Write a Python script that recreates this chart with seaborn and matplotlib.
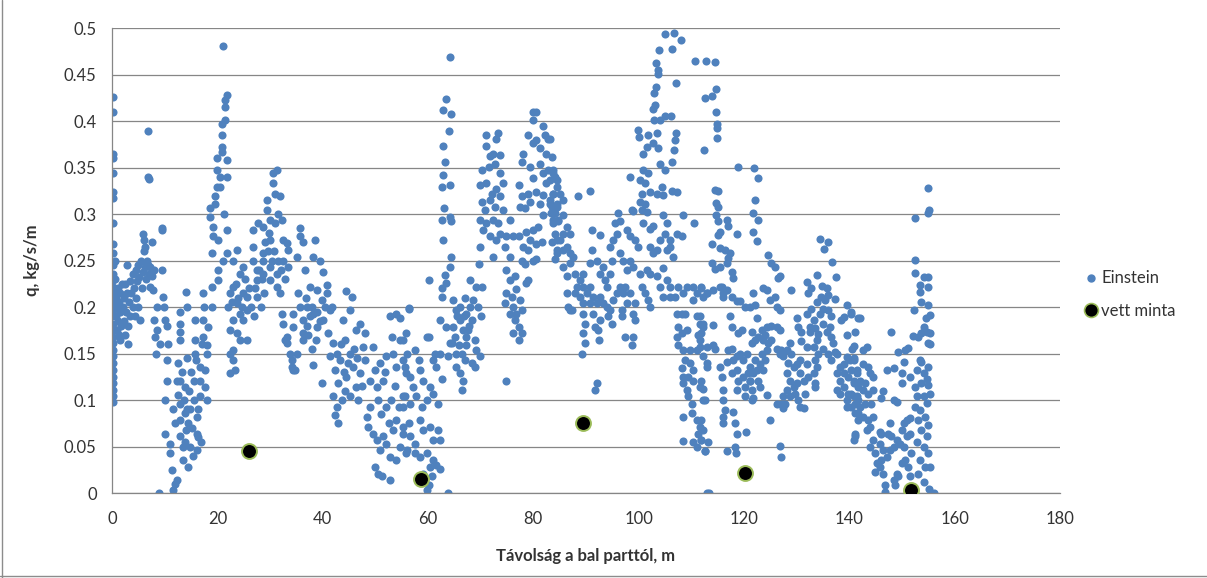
import numpy as np
import pandas as pd
import matplotlib
matplotlib.use("Agg")
import matplotlib.pyplot as plt
import seaborn as sns
from matplotlib.lines import Line2D

# Einstein bedload estimates (x in m, q in kg/s/m)
seg_00_10 = [
    (0.1, 0.426), (0.1, 0.41), (0.1, 0.365), (0.1, 0.36), (0.1, 0.344), (0.1, 0.324), (0.1, 0.317),
    (0.2, 0.29), (0.1, 0.268), (0.2, 0.258), (0.1, 0.245), (0.2, 0.236), (0.1, 0.229), (0.2, 0.222),
    (0.1, 0.215), (0.2, 0.204), (0.1, 0.197), (0.2, 0.19), (0.1, 0.182), (0.2, 0.175), (0.1, 0.168),
    (0.2, 0.161), (0.1, 0.154), (0.2, 0.147), (0.1, 0.14), (0.2, 0.132), (0.1, 0.125), (0.2, 0.118),
    (0.1, 0.111), (0.2, 0.104), (0.1, 0.098),
    (0.5, 0.25), (0.6, 0.23), (0.7, 0.21), (0.8, 0.19), (0.9, 0.175), (1.0, 0.2), (1.1, 0.22),
    (1.2, 0.185), (1.3, 0.205), (1.4, 0.17), (1.5, 0.215), (1.6, 0.195), (1.8, 0.18), (1.9, 0.225),
    (2.0, 0.2), (2.2, 0.21), (2.3, 0.185), (2.5, 0.225), (2.6, 0.195), (2.8, 0.245), (2.9, 0.215),
    (3.0, 0.18), (3.2, 0.205), (3.4, 0.228), (3.5, 0.19), (3.7, 0.215), (3.9, 0.2), (4.0, 0.235),
    (4.2, 0.22), (4.3, 0.19), (4.5, 0.24), (4.6, 0.21), (4.8, 0.228), (5.0, 0.2), (5.0, 0.245),
    (5.2, 0.232), (5.3, 0.186), (5.5, 0.25), (5.6, 0.22), (5.8, 0.238), (5.95, 0.279), (6.0, 0.26),
    (6.1, 0.272), (6.2, 0.265), (6.3, 0.243), (6.5, 0.23), (6.6, 0.25), (6.8, 0.245), (6.9, 0.389),
    (6.9, 0.34), (7.0, 0.338), (7.0, 0.236), (7.2, 0.243), (7.3, 0.222), (7.5, 0.27), (7.6, 0.233),
    (7.85, 0.218), (7.9, 0.24), (8.0, 0.186), (8.2, 0.168), (8.3, 0.15), (8.5, 0.2), (8.6, 0.175),
    (9.0, 0.0), (9.2, 0.16), (9.4, 0.285), (9.45, 0.283), (9.4, 0.24), (9.75, 0.211), (9.8, 0.2),
    (10.0, 0.186), (1.5, 0.165), (2.5, 0.17), (3.0, 0.16),
]
seg_10_18 = [
    (10.1, 0.064), (10.1, 0.1), (10.4, 0.143), (10.4, 0.121), (10.5, 0.18), (10.6, 0.16), (11.0, 0.043),
    (11.0, 0.053), (11.3, 0.025), (11.5, 0.09), (11.6, 0.003), (11.95, 0.01), (12.0, 0.075), (12.3, 0.014),
    (12.3, 0.12), (12.5, 0.105), (12.9, 0.096), (12.9, 0.078), (12.9, 0.061), (12.9, 0.195), (12.9, 0.182),
    (12.9, 0.173), (12.9, 0.165), (13.2, 0.13), (13.4, 0.05), (13.5, 0.035), (13.9, 0.114), (13.9, 0.086),
    (14.0, 0.068), (14.3, 0.2), (14.0, 0.216), (14.3, 0.145), (14.5, 0.028), (14.6, 0.11), (14.8, 0.05),
    (14.9, 0.09), (15.1, 0.07), (15.3, 0.04), (15.8, 0.186), (15.8, 0.165), (15.8, 0.15), (15.9, 0.143),
    (16.1, 0.082), (16.1, 0.064), (16.1, 0.046), (16.4, 0.06), (16.7, 0.104), (16.7, 0.121), (16.7, 0.136),
    (16.9, 0.055), (17.3, 0.215), (17.3, 0.186), (17.3, 0.168), (17.65, 0.132), (17.65, 0.114),
    (17.95, 0.15), (17.95, 0.159), (18.3, 0.179), (18.0, 0.1), (17.5, 0.2), (17.0, 0.16),
    (12.6, 0.14), (13.0, 0.12), (13.6, 0.1), (14.2, 0.09), (14.4, 0.075), (13.8, 0.055), (15.5, 0.12),
    (15.0, 0.13), (15.6, 0.1), (16.3, 0.09),
]
seg_18_29 = [
    (18.6, 0.306), (18.6, 0.297), (18.9, 0.2), (18.9, 0.222), (18.9, 0.258), (19.2, 0.286), (19.2, 0.276),
    (19.55, 0.311), (19.55, 0.319), (19.9, 0.36), (19.9, 0.347), (19.9, 0.329), (20.2, 0.272), (20.2, 0.24),
    (20.2, 0.229), (20.5, 0.329), (20.5, 0.34), (20.8, 0.367), (20.8, 0.372), (20.8, 0.385), (20.8, 0.397),
    (21.1, 0.481), (21.45, 0.401), (21.45, 0.415), (21.45, 0.423), (21.8, 0.428), (21.8, 0.358), (21.8, 0.34),
    (21.8, 0.283), (21.8, 0.258), (21.3, 0.3), (21.0, 0.25), (22.4, 0.215), (22.4, 0.175), (22.4, 0.15),
    (22.4, 0.129), (23.0, 0.25), (23.0, 0.222), (23.0, 0.186), (23.0, 0.154), (23.0, 0.143), (23.4, 0.132),
    (23.7, 0.261), (23.7, 0.204), (23.7, 0.172), (24.3, 0.236), (24.3, 0.193), (24.3, 0.165), (24.9, 0.243),
    (24.9, 0.215), (24.9, 0.186), (25.6, 0.211), (25.6, 0.197), (25.6, 0.165), (26.8, 0.283), (26.8, 0.265),
    (26.8, 0.25), (27.5, 0.24), (27.5, 0.229), (27.5, 0.211), (27.8, 0.29), (22.0, 0.2), (22.8, 0.205),
    (23.5, 0.225), (24.0, 0.21), (24.6, 0.2), (25.2, 0.23), (26.0, 0.22), (26.4, 0.2), (27.0, 0.19),
    (27.2, 0.22), (28.0, 0.24), (28.2, 0.2), (28.4, 0.23), (28.6, 0.25), (28.8, 0.215),
]
seg_29_48 = [
    (29.4, 0.304), (29.4, 0.315), (30.0, 0.294), (30.0, 0.272), (30.6, 0.344), (30.6, 0.333), (31.3, 0.347),
    (30.9, 0.322), (31.9, 0.319), (32.2, 0.294), (32.5, 0.272), (28.7, 0.286), (28.7, 0.258), (28.7, 0.236),
    (30.0, 0.243), (30.0, 0.229), (31.3, 0.236), (31.3, 0.222), (31.9, 0.215), (32.2, 0.193), (32.5, 0.182),
    (33.2, 0.168), (33.8, 0.15), (34.1, 0.136), (34.8, 0.132), (32.9, 0.165), (33.5, 0.243), (33.5, 0.261),
    (33.2, 0.269), (29.0, 0.27), (29.6, 0.26), (30.3, 0.25), (30.8, 0.26), (31.5, 0.25), (32.0, 0.24),
    (32.8, 0.23), (29.8, 0.28), (31.0, 0.29), (31.6, 0.3), (32.4, 0.25),
    (35.7, 0.285), (35.7, 0.276), (36.3, 0.27), (38.5, 0.272), (35.1, 0.254), (36.6, 0.24), (38.2, 0.254),
    (39.5, 0.25), (40.1, 0.238), (40.8, 0.224), (35.4, 0.215), (35.7, 0.2), (37.0, 0.2), (37.6, 0.222),
    (38.9, 0.218), (39.8, 0.208), (40.8, 0.215), (41.4, 0.197), (34.4, 0.193), (34.4, 0.179), (36.3, 0.186),
    (36.3, 0.172), (38.2, 0.193), (38.9, 0.179), (40.1, 0.186), (41.1, 0.172), (33.2, 0.161), (35.1, 0.15),
    (36.3, 0.165), (37.9, 0.155), (34.1, 0.143), (34.4, 0.132), (38.2, 0.138), (39.8, 0.118), (37.0, 0.18),
    (37.5, 0.19), (38.0, 0.2), (39.0, 0.195), (39.4, 0.185), (40.5, 0.2), (36.8, 0.21), (37.3, 0.17),
    (38.7, 0.165),
    (41.7, 0.2), (44.5, 0.217), (45.5, 0.211), (45.2, 0.197), (42.0, 0.161), (42.7, 0.15), (43.9, 0.186),
    (43.3, 0.143), (44.2, 0.165), (45.2, 0.15), (46.4, 0.175), (47.1, 0.182), (41.4, 0.147), (42.3, 0.132),
    (43.0, 0.118), (42.0, 0.104), (42.7, 0.093), (42.3, 0.084), (43.0, 0.075), (44.5, 0.125), (45.8, 0.136),
    (46.4, 0.114), (45.2, 0.104), (46.8, 0.1), (47.1, 0.129), (48.0, 0.143), (47.7, 0.157), (48.0, 0.172),
    (43.5, 0.16), (44.0, 0.13), (44.8, 0.14), (43.6, 0.1), (44.3, 0.11), (46.0, 0.155), (46.5, 0.145),
    (47.5, 0.115),
]
seg_48_63 = [
    (49.6, 0.157), (49.9, 0.132), (49.0, 0.121), (50.3, 0.114), (51.5, 0.121), (52.1, 0.147), (52.8, 0.19),
    (54.0, 0.193), (53.1, 0.168), (53.4, 0.15), (54.0, 0.136), (54.7, 0.165), (55.3, 0.143), (55.9, 0.172),
    (56.3, 0.199), (55.9, 0.129), (55.6, 0.104), (55.3, 0.093), (54.4, 0.093), (52.1, 0.093), (49.0, 0.093),
    (48.4, 0.082), (48.7, 0.071), (49.6, 0.064), (50.3, 0.057), (51.5, 0.061), (50.9, 0.046), (52.1, 0.053),
    (52.8, 0.039), (54.0, 0.035), (54.7, 0.05), (55.3, 0.064), (55.9, 0.043), (49.9, 0.028), (50.6, 0.021),
    (51.2, 0.018), (52.8, 0.014), (53.4, 0.068), (54.0, 0.078), (56.3, 0.075), (50.5, 0.1), (51.0, 0.085),
    (52.5, 0.075), (53.0, 0.1), (51.8, 0.13), (50.8, 0.14), (53.7, 0.115),
    (54.7, 0.188), (56.3, 0.198), (55.3, 0.165), (56.0, 0.15), (57.5, 0.154), (58.2, 0.143), (59.8, 0.168),
    (55.6, 0.136), (56.6, 0.125), (57.2, 0.114), (58.5, 0.132), (59.1, 0.121), (61.0, 0.143), (61.6, 0.136),
    (61.3, 0.15), (55.3, 0.104), (56.6, 0.096), (57.8, 0.104), (58.8, 0.093), (59.8, 0.1), (60.4, 0.114),
    (61.0, 0.107), (61.9, 0.096), (62.6, 0.123), (55.3, 0.071), (56.6, 0.061), (57.5, 0.053), (58.5, 0.078),
    (59.1, 0.068), (60.4, 0.071), (61.0, 0.057), (61.9, 0.068), (62.3, 0.057), (56.0, 0.046), (57.5, 0.043),
    (58.5, 0.039), (59.8, 0.043), (60.4, 0.028), (61.0, 0.035), (61.6, 0.03), (62.3, 0.026), (59.1, 0.021),
    (60.7, 0.018), (59.8, 0.003), (60.1, 0.009), (63.8, 0.0), (60.2, 0.229), (60.1, 0.168),
]
seg_63_80 = [
    (64.2, 0.469), (63.5, 0.424), (62.9, 0.412), (64.3, 0.408), (64.0, 0.389), (62.9, 0.373), (63.2, 0.356),
    (62.9, 0.342), (62.6, 0.329), (64.2, 0.331), (63.1, 0.306), (62.6, 0.294), (64.2, 0.297), (64.3, 0.292),
    (62.9, 0.272), (64.3, 0.254), (64.2, 0.243), (63.2, 0.234), (63.5, 0.226), (62.6, 0.22), (62.6, 0.211),
    (62.3, 0.186), (63.5, 0.179), (64.5, 0.161), (62.3, 0.15), (63.8, 0.147),
    (64.8, 0.208), (65.4, 0.197), (66.1, 0.186), (66.7, 0.175), (65.1, 0.168), (65.8, 0.159), (66.4, 0.15),
    (67.0, 0.143), (65.4, 0.136), (66.1, 0.129), (66.7, 0.121), (66.4, 0.111), (67.3, 0.193), (68.0, 0.2),
    (68.3, 0.186), (68.6, 0.208), (69.2, 0.222), (69.6, 0.246), (70.2, 0.222), (68.0, 0.229), (68.9, 0.165),
    (69.2, 0.154), (68.3, 0.14), (68.9, 0.136), (69.9, 0.147), (67.3, 0.168), (64.8, 0.179), (64.2, 0.161),
    (65.4, 0.15), (67.3, 0.159), (67.6, 0.175), (65.6, 0.19), (66.0, 0.2), (67.0, 0.21), (67.8, 0.18),
    (66.8, 0.19), (69.5, 0.2), (70.0, 0.19),
    (71.1, 0.385), (73.2, 0.387), (73.0, 0.381), (71.0, 0.373), (71.8, 0.362), (72.4, 0.365), (73.7, 0.364),
    (70.2, 0.347), (71.5, 0.351), (72.7, 0.354), (73.7, 0.344), (74.3, 0.333), (69.9, 0.331), (71.1, 0.333),
    (72.1, 0.322), (73.0, 0.327), (73.7, 0.319), (70.2, 0.313), (71.8, 0.315), (72.7, 0.308), (74.3, 0.304),
    (70.8, 0.304), (69.9, 0.294), (71.1, 0.29), (72.4, 0.294), (73.3, 0.29), (73.7, 0.279), (75.6, 0.294),
    (70.5, 0.283), (71.8, 0.276), (73.0, 0.272), (74.9, 0.276), (69.9, 0.265), (72.4, 0.254), (74.6, 0.265),
    (75.6, 0.254), (76.2, 0.276), (77.2, 0.276),
    (74.9, 0.24), (75.6, 0.229), (76.5, 0.233), (74.9, 0.215), (75.9, 0.211), (76.8, 0.219), (74.6, 0.204),
    (76.2, 0.2), (77.5, 0.208), (75.6, 0.193), (76.8, 0.193), (77.8, 0.197), (76.5, 0.186), (77.2, 0.179),
    (77.8, 0.172), (76.2, 0.172), (77.3, 0.165), (74.8, 0.121),
]
seg_77_85 = [
    (80.0, 0.41), (80.5, 0.41), (79.9, 0.401), (81.8, 0.395), (79.0, 0.385), (80.6, 0.38), (82.2, 0.385),
    (82.8, 0.381), (80.0, 0.376), (81.3, 0.371), (82.5, 0.365), (78.1, 0.365), (77.8, 0.356), (79.4, 0.351),
    (81.3, 0.354), (82.8, 0.347), (81.9, 0.344), (83.8, 0.344), (80.0, 0.339), (82.5, 0.333), (84.4, 0.337),
    (77.2, 0.331), (79.0, 0.322), (80.6, 0.324), (81.9, 0.32), (83.8, 0.322), (77.8, 0.319), (79.4, 0.313),
    (81.3, 0.311), (83.1, 0.311), (84.4, 0.308), (77.5, 0.308), (78.4, 0.306), (81.9, 0.299), (83.4, 0.301),
    (84.7, 0.294), (78.7, 0.281), (80.0, 0.283), (80.9, 0.286), (83.8, 0.29), (79.4, 0.272), (80.6, 0.268),
    (81.6, 0.27), (84.4, 0.272), (78.1, 0.265), (79.0, 0.261), (80.0, 0.25), (80.6, 0.252), (77.8, 0.25),
    (78.4, 0.246), (78.7, 0.226), (79.0, 0.229), (84.1, 0.252), (84.4, 0.261),
]
seg_83_100 = [
    (83.2, 0.381), (83.5, 0.361), (83.8, 0.347), (84.1, 0.34), (83.2, 0.337), (84.4, 0.329), (83.8, 0.322),
    (85.1, 0.322), (83.2, 0.315), (84.4, 0.311), (85.7, 0.315), (83.5, 0.308), (84.1, 0.301), (85.7, 0.299),
    (83.8, 0.294), (84.7, 0.292), (86.3, 0.286), (84.1, 0.279), (85.7, 0.279), (87.0, 0.279), (83.5, 0.27),
    (85.1, 0.272), (86.3, 0.265), (84.4, 0.258), (85.7, 0.261), (87.0, 0.258), (88.5, 0.319), (90.8, 0.325),
    (85.7, 0.243), (86.3, 0.233), (87.0, 0.247), (87.6, 0.254), (87.9, 0.236), (88.2, 0.222), (88.9, 0.229),
    (89.5, 0.236), (89.5, 0.222), (90.1, 0.215), (90.8, 0.222), (90.8, 0.247), (91.1, 0.261), (91.1, 0.283),
    (92.7, 0.277), (92.0, 0.25), (92.7, 0.236), (93.3, 0.243), (93.6, 0.229), (93.9, 0.222), (94.6, 0.236),
    (94.9, 0.25), (94.6, 0.265), (95.2, 0.272), (95.8, 0.279), (95.5, 0.29), (96.1, 0.301), (96.5, 0.292),
    (86.3, 0.215), (86.6, 0.2), (87.3, 0.197), (87.9, 0.215), (88.9, 0.211), (89.5, 0.204), (90.8, 0.204),
    (91.4, 0.211), (92.0, 0.204), (92.7, 0.211), (93.3, 0.204), (93.9, 0.2), (94.6, 0.197), (95.2, 0.208),
    (95.8, 0.215), (96.5, 0.222), (87.0, 0.197), (89.5, 0.192), (91.4, 0.193), (92.7, 0.186), (94.2, 0.19),
    (94.9, 0.182), (89.8, 0.182), (91.7, 0.179), (89.5, 0.172), (92.3, 0.175), (89.8, 0.161), (92.5, 0.165),
    (89.2, 0.15), (92.0, 0.118), (91.7, 0.111),
    (96.5, 0.258), (97.1, 0.25), (97.7, 0.24), (98.3, 0.25), (99.0, 0.243), (97.4, 0.222), (98.3, 0.215),
    (99.3, 0.204), (97.1, 0.215), (97.7, 0.204), (96.8, 0.197), (99.0, 0.193), (99.3, 0.186), (96.8, 0.19),
    (97.4, 0.168), (99.0, 0.168), (98.7, 0.159), (97.7, 0.283), (98.3, 0.276), (99.3, 0.272), (99.9, 0.265),
    (100.3, 0.236), (100.6, 0.222), (101.2, 0.215), (101.8, 0.208), (102.1, 0.2), (98.3, 0.34), (98.9, 0.303),
]
seg_100_113 = [
    (105.0, 0.494), (106.7, 0.495), (108.0, 0.487), (103.9, 0.476), (106.4, 0.477), (103.2, 0.462),
    (103.6, 0.455), (103.7, 0.451), (107.1, 0.441), (103.3, 0.437), (102.9, 0.43), (103.1, 0.417),
    (102.8, 0.413), (102.9, 0.401), (104.0, 0.401), (105.0, 0.405), (106.1, 0.405), (99.9, 0.39),
    (100.1, 0.383), (101.8, 0.385), (103.4, 0.387), (107.1, 0.387), (106.9, 0.38), (102.8, 0.376),
    (103.7, 0.371), (101.5, 0.372), (100.8, 0.365), (106.8, 0.369), (106.3, 0.356), (104.0, 0.354),
    (105.0, 0.347), (100.9, 0.347), (101.8, 0.344), (100.3, 0.337), (101.2, 0.333), (100.6, 0.322),
    (102.1, 0.324), (103.4, 0.322), (104.4, 0.329), (104.7, 0.32), (106.3, 0.325), (107.2, 0.324),
    (100.3, 0.313), (101.2, 0.311), (100.6, 0.304), (101.5, 0.302), (98.7, 0.304), (100.9, 0.29),
    (102.1, 0.284), (102.8, 0.287), (104.7, 0.299), (105.3, 0.29), (105.0, 0.279), (104.0, 0.272),
    (105.9, 0.272), (105.3, 0.261), (106.6, 0.254), (105.9, 0.265), (102.1, 0.265), (102.8, 0.258),
    (103.4, 0.261), (101.5, 0.24), (102.1, 0.236), (103.4, 0.233), (104.7, 0.242), (105.3, 0.229),
    (105.9, 0.222), (104.0, 0.222), (104.7, 0.211), (105.9, 0.211), (107.2, 0.279), (108.2, 0.276),
    (108.4, 0.299), (110.6, 0.29), (110.7, 0.465), (112.8, 0.465), (112.6, 0.425), (112.5, 0.369),
    (106.9, 0.211), (107.5, 0.222), (108.5, 0.215), (109.1, 0.222), (110.4, 0.222), (111.0, 0.215),
    (111.9, 0.222), (112.9, 0.215), (110.4, 0.208), (107.2, 0.193), (108.2, 0.193), (108.8, 0.193),
    (107.5, 0.179), (107.2, 0.168), (108.2, 0.172), (109.1, 0.175), (111.0, 0.19), (111.6, 0.182),
    (112.3, 0.179), (111.3, 0.17), (111.6, 0.165), (107.5, 0.159), (108.5, 0.154), (109.8, 0.154),
    (111.0, 0.154), (112.9, 0.157), (108.8, 0.143), (109.8, 0.14), (108.2, 0.134), (110.4, 0.132),
    (112.9, 0.14), (108.5, 0.125), (109.4, 0.125), (110.4, 0.121), (108.5, 0.118), (109.1, 0.111),
    (111.6, 0.114), (109.4, 0.104), (110.1, 0.096), (112.3, 0.1), (108.5, 0.082), (110.1, 0.086),
    (111.0, 0.078), (111.6, 0.071), (111.3, 0.064), (111.9, 0.057), (110.4, 0.055), (111.0, 0.05),
    (112.6, 0.045), (108.5, 0.056), (112.9, 0.0),
]
seg_113_127 = [
    (114.5, 0.464), (114.0, 0.427), (114.6, 0.434), (114.6, 0.41), (114.8, 0.397), (114.8, 0.392),
    (114.8, 0.382), (114.5, 0.326), (115.1, 0.325), (114.7, 0.312), (115.1, 0.308), (114.7, 0.299),
    (115.1, 0.292), (115.4, 0.281), (115.1, 0.277), (115.4, 0.263), (113.9, 0.268), (113.9, 0.247),
    (114.5, 0.241), (115.4, 0.243), (114.2, 0.218), (112.9, 0.215), (111.9, 0.22), (112.3, 0.211),
    (115.4, 0.222), (116.1, 0.211), (111.6, 0.19), (112.3, 0.182), (111.9, 0.172), (114.2, 0.181),
    (111.6, 0.157), (112.3, 0.147), (114.2, 0.159), (114.5, 0.155), (112.9, 0.136), (115.4, 0.136),
    (111.9, 0.121), (112.3, 0.112), (115.8, 0.125), (112.6, 0.1), (116.1, 0.111), (116.1, 0.1),
    (111.9, 0.078), (112.3, 0.068), (113.2, 0.055), (111.9, 0.057), (112.6, 0.045), (116.1, 0.082),
    (116.1, 0.075), (116.4, 0.089), (113.4, 0.0),
    (116.7, 0.294), (117.0, 0.287), (118.6, 0.279), (118.8, 0.351), (116.4, 0.261), (117.3, 0.258),
    (117.0, 0.253), (116.7, 0.247), (117.7, 0.238), (118.0, 0.231), (115.8, 0.222), (116.1, 0.215),
    (116.7, 0.218), (117.7, 0.211), (118.6, 0.206), (119.2, 0.206), (120.2, 0.2), (117.3, 0.19),
    (117.7, 0.179), (118.9, 0.172), (119.6, 0.175), (117.7, 0.155), (117.0, 0.154), (118.0, 0.143),
    (118.6, 0.147), (119.2, 0.15), (119.9, 0.143), (120.5, 0.15), (116.7, 0.141), (117.7, 0.129),
    (118.6, 0.132), (118.9, 0.121), (119.9, 0.125), (120.8, 0.129), (118.6, 0.111), (120.2, 0.114),
    (121.1, 0.121), (120.2, 0.104), (121.5, 0.1), (118.0, 0.087), (118.3, 0.075), (118.6, 0.064),
    (120.4, 0.066), (116.7, 0.045), (118.3, 0.05), (118.5, 0.043),
    (121.9, 0.349), (122.7, 0.339), (122.1, 0.315), (121.8, 0.301), (122.7, 0.294), (121.8, 0.281),
    (122.5, 0.271), (124.6, 0.256), (125.2, 0.247), (125.9, 0.243), (126.5, 0.231), (126.8, 0.233),
    (121.8, 0.215), (122.1, 0.202), (123.7, 0.22), (124.3, 0.218), (124.9, 0.208), (125.9, 0.211),
    (126.2, 0.2), (126.8, 0.197), (121.1, 0.2), (122.4, 0.188), (123.4, 0.175), (124.0, 0.17),
    (124.3, 0.179), (125.2, 0.18), (126.2, 0.179), (126.8, 0.175), (121.5, 0.173), (122.1, 0.165),
    (122.7, 0.168), (123.7, 0.165), (124.6, 0.161), (125.2, 0.165), (121.5, 0.161), (123.4, 0.15),
    (124.3, 0.154), (126.2, 0.155), (126.8, 0.15), (122.1, 0.143), (123.0, 0.139), (124.0, 0.143),
    (121.1, 0.136), (121.8, 0.129), (122.4, 0.132), (123.7, 0.132), (122.7, 0.12), (123.0, 0.114),
    (121.1, 0.121), (121.5, 0.111), (121.8, 0.102), (124.3, 0.105), (124.9, 0.079), (127.1, 0.096),
    (127.4, 0.091), (126.2, 0.096), (126.8, 0.051), (127.1, 0.039),
]
seg_127_142 = [
    (129.0, 0.218), (130.0, 0.188), (127.1, 0.154), (127.4, 0.147), (128.1, 0.154), (128.7, 0.161),
    (129.0, 0.15), (128.4, 0.14), (129.4, 0.136), (130.0, 0.139), (130.6, 0.143), (130.3, 0.179),
    (130.9, 0.173), (130.9, 0.163), (131.9, 0.157), (132.5, 0.173), (128.1, 0.129), (128.7, 0.121),
    (129.4, 0.114), (130.0, 0.118), (130.6, 0.129), (131.3, 0.121), (128.1, 0.111), (127.4, 0.104),
    (127.8, 0.096), (128.7, 0.104), (129.7, 0.107), (130.3, 0.1), (130.6, 0.093), (131.3, 0.091),
    (131.6, 0.107), (131.9, 0.139), (132.2, 0.125), (133.2, 0.129), (133.5, 0.118), (133.5, 0.114),
    (131.9, 0.227), (132.8, 0.22), (132.2, 0.215), (131.9, 0.193),
    (134.5, 0.273), (136.0, 0.27), (135.2, 0.262), (136.8, 0.248), (133.9, 0.234), (137.4, 0.232),
    (134.9, 0.223), (135.7, 0.22), (136.0, 0.213), (134.7, 0.211), (135.3, 0.208), (133.9, 0.205),
    (134.4, 0.193), (135.0, 0.198), (136.0, 0.197), (136.6, 0.19), (137.3, 0.209), (132.8, 0.198),
    (133.2, 0.186), (133.5, 0.177), (132.5, 0.179), (134.1, 0.171), (135.0, 0.182), (135.7, 0.173),
    (136.3, 0.179), (136.6, 0.168), (136.9, 0.161), (133.8, 0.165), (133.2, 0.157), (134.1, 0.15),
    (135.0, 0.155), (136.0, 0.15), (136.6, 0.143), (133.5, 0.143), (133.8, 0.136),
    (138.9, 0.189), (139.5, 0.202), (140.3, 0.195), (141.1, 0.173), (141.7, 0.188), (138.5, 0.186),
    (139.5, 0.17), (140.8, 0.158), (137.3, 0.152), (137.6, 0.15), (138.2, 0.136), (138.9, 0.139),
    (139.5, 0.146), (140.1, 0.143), (140.8, 0.145), (141.4, 0.132), (137.6, 0.129), (138.2, 0.121),
    (138.9, 0.129), (139.8, 0.125), (140.8, 0.121), (141.7, 0.114), (137.6, 0.111), (138.2, 0.107),
    (138.9, 0.114), (139.8, 0.107), (140.8, 0.104), (141.7, 0.1), (139.5, 0.093), (140.4, 0.093),
    (141.1, 0.086), (141.7, 0.078), (141.1, 0.063), (140.9, 0.057), (139.5, 0.1),
]
seg_140_157 = [
    (140.4, 0.193), (142.0, 0.188), (140.6, 0.155), (142.6, 0.154), (143.3, 0.157), (140.8, 0.143),
    (142.6, 0.139), (143.6, 0.136), (140.4, 0.132), (141.4, 0.129), (143.9, 0.129), (144.5, 0.125),
    (140.8, 0.118), (142.0, 0.121), (143.0, 0.118), (140.4, 0.107), (141.4, 0.104), (142.6, 0.111),
    (143.6, 0.107), (144.5, 0.111), (141.1, 0.096), (142.0, 0.093), (143.0, 0.096), (144.2, 0.096),
    (141.7, 0.086), (142.6, 0.082), (143.6, 0.079), (144.5, 0.082), (143.9, 0.071), (143.3, 0.068),
    (141.1, 0.061), (144.5, 0.057),
    (143.9, 0.05), (144.9, 0.043), (145.8, 0.053), (146.4, 0.046), (145.2, 0.032), (146.1, 0.036),
    (147.1, 0.039), (147.7, 0.046), (148.4, 0.05), (144.9, 0.023), (146.4, 0.021), (145.8, 0.028),
    (146.8, 0.009), (146.8, 0.001), (148.0, 0.061), (149.0, 0.057), (149.6, 0.053), (150.3, 0.05),
    (150.9, 0.061), (151.5, 0.064), (147.4, 0.064), (145.8, 0.066), (146.1, 0.064), (149.0, 0.021),
    (148.4, 0.014), (148.7, 0.009), (149.3, 0.018), (150.0, 0.032), (150.6, 0.035), (151.2, 0.028),
    (151.5, 0.018), (151.8, 0.043), (150.3, 0.075), (150.9, 0.078), (150.0, 0.068), (147.7, 0.075),
    (151.5, 0.081), (146.4, 0.11), (146.1, 0.102), (148.4, 0.1), (149.0, 0.098), (147.1, 0.132),
    (148.0, 0.173), (148.4, 0.134), (149.3, 0.152), (150.0, 0.129), (150.0, 0.118), (150.3, 0.141),
    (150.6, 0.154), (151.2, 0.156), (151.5, 0.125),
    (154.9, 0.328), (155.2, 0.304), (154.9, 0.301), (152.5, 0.296), (152.5, 0.251), (152.5, 0.237),
    (154.2, 0.232), (155.0, 0.232), (153.4, 0.224), (154.9, 0.222), (153.4, 0.216), (153.7, 0.205),
    (155.0, 0.202), (152.3, 0.197), (155.3, 0.191), (154.6, 0.188), (154.1, 0.179), (154.7, 0.173),
    (155.3, 0.172), (153.7, 0.172), (153.1, 0.168), (152.0, 0.169), (155.0, 0.161), (155.3, 0.16),
    (153.4, 0.143), (153.7, 0.141), (155.0, 0.136), (152.8, 0.132), (154.1, 0.129), (154.7, 0.123),
    (152.5, 0.114), (153.7, 0.118), (155.0, 0.116), (155.3, 0.107), (152.8, 0.104), (154.1, 0.104),
    (154.7, 0.097), (152.5, 0.093), (153.4, 0.089), (154.4, 0.082), (155.0, 0.073), (153.1, 0.078),
    (153.7, 0.068), (152.8, 0.055), (154.7, 0.061), (154.1, 0.05), (155.0, 0.043), (153.4, 0.035),
    (154.4, 0.028), (155.3, 0.028), (153.1, 0.021), (154.1, 0.012), (155.2, 0.004), (156.1, 0.0),
]

# measured samples ("vett minta")
minta_x = [26.0, 58.6, 89.4, 120.2, 151.8]
minta_y = [0.045, 0.015, 0.075, 0.022, 0.003]

segments = [seg_00_10, seg_10_18, seg_18_29, seg_29_48, seg_48_63, seg_63_80,
            seg_77_85, seg_83_100, seg_100_113, seg_113_127, seg_127_142, seg_140_157]
einstein = pd.DataFrame([p for s in segments for p in s], columns=["x", "q"])
minta = pd.DataFrame({"x": minta_x, "q": minta_y})

sns.set_theme(style="white")
plt.rcParams["font.family"] = ["Lato", "DejaVu Sans"]

blue = "#4F81BD"
axcol = "#868686"

fig = plt.figure(figsize=(12.07, 5.78), dpi=100)
ax = fig.add_axes([0.0928, 0.147, 0.7854, 0.8045])

sns.scatterplot(data=einstein, x="x", y="q", ax=ax, color=blue, s=34,
                linewidth=0, label="Einstein", zorder=2)
sns.scatterplot(data=minta, x="x", y="q", ax=ax, color="black", s=115,
                edgecolor="#9BBB59", linewidth=1.4, label="vett minta", zorder=3)

ax.set_xlim(0, 180)
ax.set_ylim(0, 0.5)
ax.set_xticks(np.arange(0, 181, 20))
ax.set_yticks(np.arange(0, 0.501, 0.05))
ax.set_yticklabels([f"{v:g}" for v in np.arange(0, 0.501, 0.05).round(2)])
ax.yaxis.grid(True, color=axcol, lw=0.9)
ax.xaxis.grid(False)
ax.set_axisbelow(True)

for side in ["top", "right"]:
    ax.spines[side].set_visible(False)
for side in ["left", "bottom"]:
    ax.spines[side].set_color(axcol)
    ax.spines[side].set_linewidth(0.9)

ax.tick_params(axis="both", which="major", direction="out", length=5, width=0.9,
               color=axcol, labelsize=12, labelcolor="#333333")
ax.tick_params(axis="x", pad=8)
ax.tick_params(axis="y", pad=6)

ax.set_xlabel("Távolság a bal parttól, m", fontsize=12, fontweight="bold", color="#333333")
ax.set_ylabel("q, kg/s/m", fontsize=12, fontweight="bold", color="#333333")
ax.xaxis.set_label_coords(0.5, -0.118)
ax.yaxis.set_label_coords(-0.076, 0.5)

handles = [
    Line2D([], [], marker="o", ls="", color=blue, markersize=5),
    Line2D([], [], marker="o", ls="", markerfacecolor="black", markeredgecolor="#9BBB59",
           markeredgewidth=1.2, markersize=10),
]
ax.legend(handles, ["Einstein", "vett minta"], loc="center left",
          bbox_to_anchor=(0.886, 0.49), bbox_transform=fig.transFigure,
          frameon=False, fontsize=12, handlelength=0.8, handletextpad=0.2,
          labelspacing=1.0, labelcolor="#333333")

# thin chart-area border (left and bottom edges visible in the original)
fig.add_artist(Line2D([0.0015, 0.0015], [0, 1], transform=fig.transFigure, color="#8c8c8c", lw=1))
fig.add_artist(Line2D([0, 1], [0.003, 0.003], transform=fig.transFigure, color="#8c8c8c", lw=1))

fig.savefig("out.png", dpi=100)
